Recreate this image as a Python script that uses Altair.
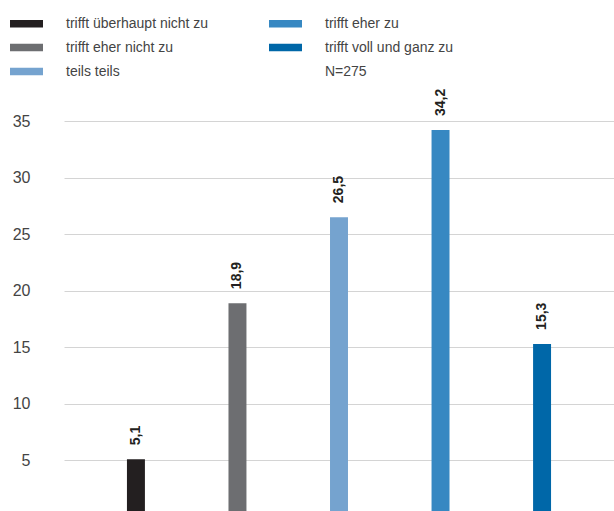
import altair as alt
import pandas as pd

# Antwortkategorien und Anteile in Prozent
kategorien = [
    "trifft überhaupt nicht zu",
    "trifft eher nicht zu",
    "teils teils",
    "trifft eher zu",
    "trifft voll und ganz zu",
]
werte = [5.1, 18.9, 26.5, 34.2, 15.3]
farben = ["#231f20", "#6d6e71", "#75a3cf", "#3788c2", "#0067a8"]
stichprobe = "N=275"
y_ticks = [5, 10, 15, 20, 25, 30, 35]

df = pd.DataFrame({"kategorie": kategorien, "anteil": werte})

# Legend entries fill the two columns top to bottom; the sample size is an
# extra entry without a visible swatch.
legend_order = kategorien + [stichprobe]
legend_colors = farben + ["transparent"]

FONT = "Liberation Sans"

base = alt.Chart(df).encode(
    x=alt.X(
        "kategorie:N",
        sort=kategorien,
        axis=None,
        scale=alt.Scale(paddingInner=0.823, paddingOuter=0.62),
    ),
    y=alt.Y(
        "anteil:Q",
        scale=alt.Scale(domain=[0, 35], nice=False),
        axis=alt.Axis(
            values=y_ticks,
            title=None,
            domain=False,
            ticks=False,
            labelPadding=34,
            labelFontSize=16,
            labelFont=FONT,
            labelColor="#444444",
            gridColor="#d4d4d4",
            gridWidth=1,
        ),
    ),
)

bars = base.mark_bar().encode(
    color=alt.Color(
        "kategorie:N",
        scale=alt.Scale(domain=legend_order, range=legend_colors),
        legend=alt.Legend(
            orient="none",
            legendX=-54,
            legendY=-114,
            columns=2,
            title=None,
            symbolType="M-1,-0.23H1V0.23H-1Z",
            symbolSize=1089,
            symbolStrokeWidth=0,
            symbolOpacity=1,
            labelFontSize=14,
            labelFont=FONT,
            labelColor="#444444",
            labelOffset=23,
            labelLimit=0,
            columnPadding=60,
            rowPadding=0,
        ),
    )
)

labels = base.transform_calculate(
    label="replace(format(datum.anteil, '.1f'), '.', ',')"
).mark_text(
    angle=270,
    align="left",
    baseline="middle",
    dx=14,
    fontSize=14,
    fontWeight="bold",
    font=FONT,
    color="#231f20",
).encode(text="label:N")

chart = (
    alt.layer(bars, labels)
    .properties(
        width=550,
        height=396,
        autosize=alt.AutoSizeParams(type="none"),
        padding={"left": 64, "top": 121, "right": 0, "bottom": 0},
    )
    .configure_view(stroke=None)
)

chart.save("out.html", embed_options={"renderer": "svg", "actions": False})
